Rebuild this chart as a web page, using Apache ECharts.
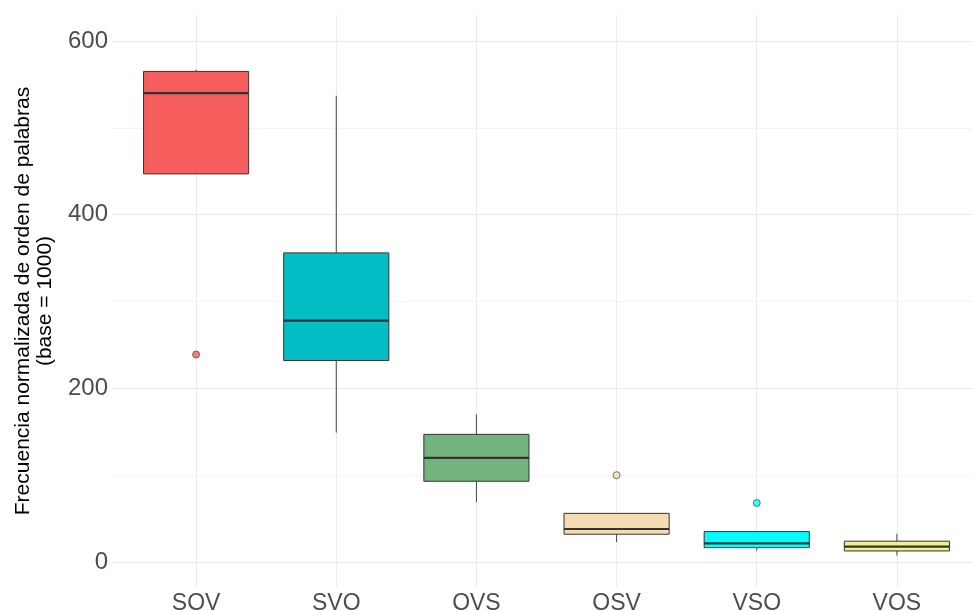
<!DOCTYPE html>
<html>
<head>
<meta charset="utf-8">
<script src="https://cdn.jsdelivr.net/npm/echarts@6/dist/echarts.min.js"></script>
<style>
html,body{margin:0;padding:0;background:#fff;}
#chart{width:973px;height:611px;}
</style>
</head>
<body>
<div id="chart"></div>
<script>
// ---- data ----
const categories = ['SOV', 'SVO', 'OVS', 'OSV', 'VSO', 'VOS'];
const whiskerLow  = [447, 149, 69, 23, 13, 7.3];
const q1          = [447, 232, 93, 32, 16.5, 12.7];
const medianVals  = [540, 278, 120, 38, 21.5, 17.6];
const q3          = [565, 356, 147, 56, 35, 24];
const whiskerHigh = [567, 537, 170, 56, 35, 32.6];
const outlierCats = ['SOV', 'OSV', 'VSO'];
const outlierVals = [239, 100, 68];
const yTickLabels = [0, 200, 400, 600];

const fillColors = ['#F65D5D', '#03BEC4', '#73B37E', '#F5DBB0', '#00FFFF', '#F2EF8E'];
const lineColor = '#333333';

const boxData = categories.map((c, i) => [i + 1, whiskerLow[i], q1[i], medianVals[i], q3[i], whiskerHigh[i]]);
const outlierData = outlierCats.map((c, k) => {
  const idx = categories.indexOf(c);
  return { value: [idx + 1, outlierVals[k]], itemStyle: { color: fillColors[idx] } };
});

const chart = echarts.init(document.getElementById('chart'), null, { renderer: 'canvas' });

function renderBox(params, api) {
  const x = api.value(0);
  const lo = api.coord([x, api.value(1)]);
  const b1 = api.coord([x, api.value(2)]);
  const md = api.coord([x, api.value(3)]);
  const b3 = api.coord([x, api.value(4)]);
  const hi = api.coord([x, api.value(5)]);
  const halfW = api.size([1, 0])[0] * 0.375;
  const cx = lo[0];
  return {
    type: 'group',
    children: [
      { type: 'line', shape: { x1: cx, y1: lo[1], x2: cx, y2: b1[1] }, style: { stroke: '#444444', lineWidth: 1 } },
      { type: 'line', shape: { x1: cx, y1: b3[1], x2: cx, y2: hi[1] }, style: { stroke: '#444444', lineWidth: 1 } },
      { type: 'rect', shape: { x: cx - halfW, y: b3[1], width: 2 * halfW, height: b1[1] - b3[1] },
        style: { fill: fillColors[params.dataIndex], stroke: lineColor, lineWidth: 1 } },
      { type: 'line', shape: { x1: cx - halfW, y1: md[1], x2: cx + halfW, y2: md[1] }, style: { stroke: lineColor, lineWidth: 2.2 } }
    ]
  };
}

const option = {
  backgroundColor: '#ffffff',
  animation: false,
  grid: { left: 112, top: 15, width: 869, height: 572, containLabel: false, outerBoundsMode: 'none' },
  xAxis: {
    type: 'value',
    min: 0.4,
    max: 6.6,
    minInterval: 1,
    maxInterval: 1,
    axisLine: { show: false },
    axisTick: { show: false },
    axisLabel: {
      show: true,
      showMinLabel: false,
      showMaxLabel: false,
      margin: 5,
      color: '#4D4D4D',
      fontSize: 23,
      fontFamily: 'Liberation Sans, Arial, sans-serif',
      formatter: function (v) {
        const r = Math.round(v);
        return (Math.abs(v - r) < 1e-6 && r >= 1 && r <= categories.length) ? categories[r - 1] : '';
      }
    },
    splitLine: { show: true, showMinLine: false, showMaxLine: false, lineStyle: { color: '#EBEBEB', width: 1 } }
  },
  yAxis: {
    type: 'value',
    min: -28.8,
    max: 630,
    minInterval: 100,
    maxInterval: 100,
    splitNumber: 7,
    name: 'Frecuencia normalizada de orden de palabras\n(base = 1000)',
    nameLocation: 'middle',
    nameRotate: 90,
    nameGap: 56,
    nameTextStyle: { color: '#000000', fontSize: 21, fontFamily: 'Liberation Sans, Arial, sans-serif', lineHeight: 22, align: 'center' },
    axisLine: { show: false },
    axisTick: { show: false },
    axisLabel: {
      margin: 4,
      color: '#4D4D4D',
      fontSize: 24,
      fontFamily: 'Liberation Sans, Arial, sans-serif',
      showMinLabel: false,
      showMaxLabel: false,
      formatter: function (v) {
        return yTickLabels.indexOf(Math.round(v)) >= 0 && Math.abs(v - Math.round(v)) < 1e-6 ? String(Math.round(v)) : '';
      }
    },
    splitLine: { show: true, showMinLine: false, showMaxLine: false, lineStyle: { color: ['#EBEBEB', '#F4F4F4'], width: 1 } }
  },
  series: [
    {
      type: 'custom',
      renderItem: renderBox,
      encode: { x: 0, y: [1, 2, 3, 4, 5] },
      data: boxData,
      z: 2
    },
    {
      type: 'scatter',
      data: outlierData,
      symbol: 'circle',
      symbolSize: 7,
      itemStyle: { borderColor: lineColor, borderWidth: 0.8 },
      z: 3
    }
  ]
};
chart.setOption(option);
</script>
</body>
</html>
